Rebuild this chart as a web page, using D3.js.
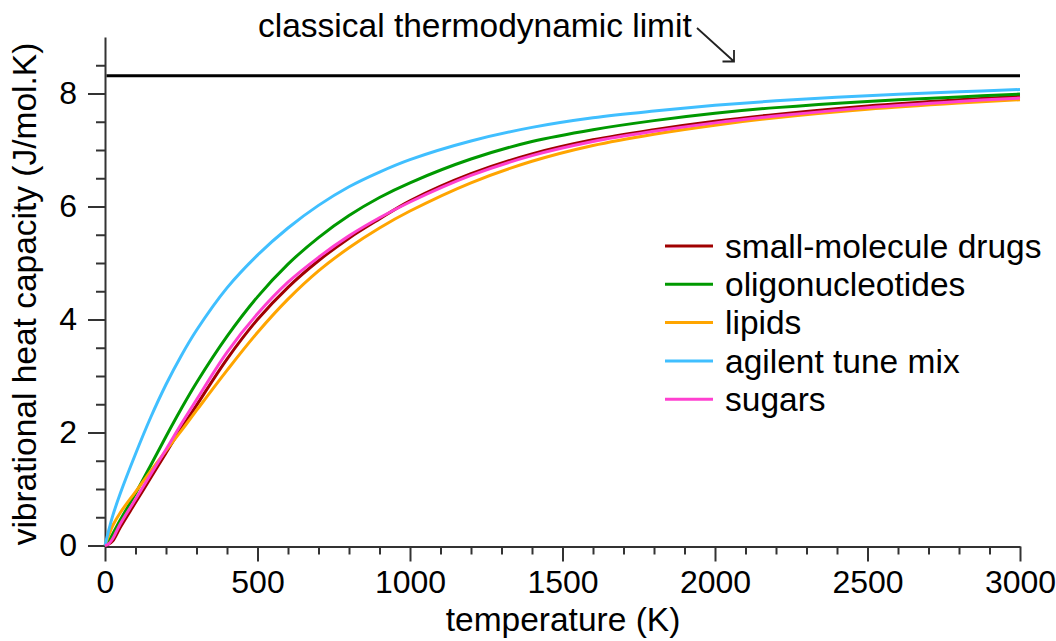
<!DOCTYPE html>
<html lang="en">
<head>
    <meta charset="UTF-8">
    <title>Vibrational heat capacity</title>
    <script src="https://d3js.org/d3.v7.min.js"></script>
    <style>
        body { margin: 0; background: #fff; }
        text { font-family: "Liberation Sans", Arial, sans-serif; fill: #000; }
    </style>
</head>
<body>
<script>
    // temperature grid (K)
    const temperatures = [0, 10, 25, 50, 100, 150, 200, 250, 300, 400, 500, 600, 700, 800, 900, 1000,
        1200, 1400, 1600, 1800, 2000, 2200, 2500, 2800, 3000];

    // vibrational heat capacity (J/mol.K)
    const smallMolecule = [0, 0.02, 0.08, 0.32, 0.76, 1.2, 1.64, 2.07, 2.48, 3.3, 4.0, 4.57, 5.04, 5.44, 5.78, 6.1,
        6.58, 6.93, 7.18, 7.36, 7.51, 7.63, 7.78, 7.89, 7.95];
    const oligonucleotides = [0, 0.06, 0.2, 0.45, 0.92, 1.42, 1.93, 2.42, 2.88, 3.7, 4.4, 4.98, 5.45, 5.84, 6.16, 6.42,
        6.84, 7.15, 7.36, 7.52, 7.65, 7.75, 7.86, 7.94, 7.99];
    const lipids = [0, 0.15, 0.35, 0.58, 0.95, 1.32, 1.68, 2.03, 2.39, 3.1, 3.77, 4.36, 4.86, 5.27, 5.62, 5.92,
        6.42, 6.8, 7.08, 7.28, 7.44, 7.57, 7.72, 7.83, 7.89];
    const agilent = [0, 0.22, 0.52, 0.92, 1.62, 2.27, 2.85, 3.36, 3.81, 4.56, 5.14, 5.62, 6.02, 6.35, 6.61, 6.83,
        7.16, 7.4, 7.57, 7.69, 7.79, 7.87, 7.96, 8.03, 8.07];
    const sugars = [0, 0.02, 0.12, 0.38, 0.82, 1.26, 1.7, 2.15, 2.58, 3.42, 4.1, 4.66, 5.1, 5.48, 5.8, 6.08,
        6.55, 6.9, 7.15, 7.33, 7.48, 7.6, 7.75, 7.86, 7.92];

    const seriesNames = ["small-molecule drugs", "oligonucleotides", "lipids", "agilent tune mix", "sugars"];
    const seriesValues = [smallMolecule, oligonucleotides, lipids, agilent, sugars];
    const seriesColors = ["#a00000", "#009900", "#ffa500", "#40bfff", "#ff40d0"];

    const classicalLimit = 8.314;
    const xMajor = [0, 500, 1000, 1500, 2000, 2500, 3000];
    const yMajor = [0, 2, 4, 6, 8];

    const width = 1056, height = 641;
    const labelSize = 33.5, tickFontSize = 32;

    const svg = d3.select("body").append("svg")
        .attr("width", width)
        .attr("height", height);

    const x = d3.scaleLinear().domain([0, 3000]).range([105, 1020]);
    const y = d3.scaleLinear().domain([0, 9]).range([545.5, 37]);

    const axisColor = "#333";

    // x axis
    const xMinor = d3.range(0, 3001, 100).filter(v => v % 500 !== 0);
    svg.append("g")
        .attr("transform", "translate(0,546.5)")
        .call(d3.axisBottom(x).tickValues(xMinor).tickSize(8).tickSizeOuter(0).tickFormat(""))
        .call(g => g.select(".domain").remove());
    const gx = svg.append("g")
        .attr("transform", "translate(0,546.5)")
        .call(d3.axisBottom(x).tickValues(xMajor).tickSize(15).tickSizeOuter(0).tickPadding(9).tickFormat(d3.format("d")));
    gx.selectAll("text").attr("font-size", tickFontSize).attr("font-family", "Liberation Sans, Arial, sans-serif");

    // y axis
    const yMinor = d3.range(0.5, 9, 0.5).filter(v => v % 2 !== 0);
    svg.append("g")
        .attr("transform", "translate(105,0)")
        .call(d3.axisLeft(y).tickValues(yMinor).tickSize(9).tickSizeOuter(0).tickFormat(""))
        .call(g => g.select(".domain").remove());
    const gy = svg.append("g")
        .attr("transform", "translate(105,0)")
        .call(d3.axisLeft(y).tickValues(yMajor).tickSize(17).tickSizeOuter(0).tickPadding(11).tickFormat(d3.format("d")));
    gy.selectAll("text").attr("font-size", tickFontSize).attr("font-family", "Liberation Sans, Arial, sans-serif");

    svg.selectAll(".domain, .tick line")
        .attr("stroke", axisColor)
        .attr("stroke-width", 2);

    // axis titles
    svg.append("text")
        .attr("x", 563)
        .attr("y", 631)
        .attr("text-anchor", "middle")
        .attr("font-size", labelSize)
        .text("temperature (K)");

    svg.append("text")
        .attr("transform", "translate(36,294) rotate(-90)")
        .attr("text-anchor", "middle")
        .attr("font-size", labelSize)
        .text("vibrational heat capacity (J/mol.K)");

    // classical limit line
    svg.append("line")
        .attr("x1", x(5)).attr("x2", x(3000))
        .attr("y1", y(classicalLimit)).attr("y2", y(classicalLimit))
        .attr("stroke", "#000")
        .attr("stroke-width", 3);

    svg.append("text")
        .attr("x", 258)
        .attr("y", 37)
        .attr("font-size", labelSize)
        .text("classical thermodynamic limit");

    // arrow pointing at the limit line
    svg.append("path")
        .attr("d", "M697,28 L734,61.5 M722.5,61.5 L734,61.5 L734,50")
        .attr("fill", "none")
        .attr("stroke", "#222")
        .attr("stroke-width", 1.8);

    // curves, in legend order (sugars end up on top)
    const line = d3.line()
        .x((d, i) => x(temperatures[i]))
        .y(d => y(d))
        .curve(d3.curveCatmullRom.alpha(0.5));

    seriesValues.forEach((vals, k) => {
        svg.append("path")
            .datum(vals)
            .attr("d", line)
            .attr("fill", "none")
            .attr("stroke", seriesColors[k])
            .attr("stroke-width", 3);
    });

    // legend
    const legend = svg.append("g").attr("transform", "translate(665,246)");
    seriesNames.forEach((name, i) => {
        const row = legend.append("g").attr("transform", `translate(0,${i * 38.3})`);
        row.append("line")
            .attr("x1", 0).attr("x2", 48)
            .attr("stroke", seriesColors[i])
            .attr("stroke-width", 3);
        row.append("text")
            .attr("x", 60)
            .attr("dy", "0.35em")
            .attr("font-size", labelSize)
            .text(name);
    });
</script>
</body>
</html>
